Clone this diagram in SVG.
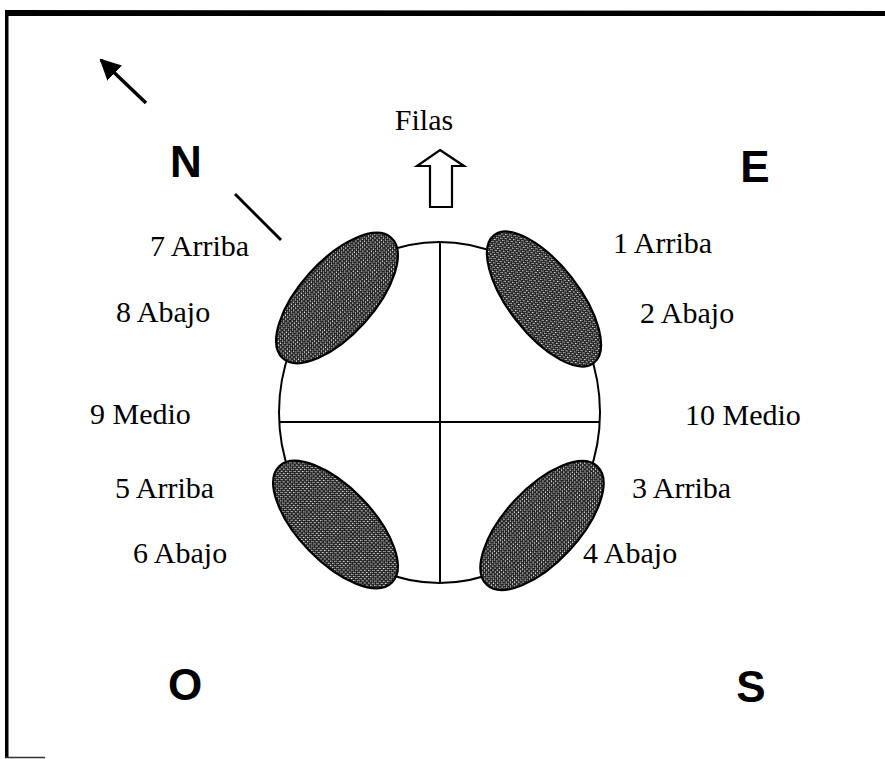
<svg xmlns="http://www.w3.org/2000/svg" width="885" height="759" viewBox="0 0 885 759">
<style>
.lbl{font-family:"Liberation Serif","Times New Roman",serif;font-size:30px;fill:#000}
.dir{font-family:"Liberation Sans",Arial,sans-serif;font-size:44px;font-weight:bold;fill:#000}
.ln{stroke:#000;stroke-width:2;fill:none}
.shade{fill:url(#dots);stroke:#000;stroke-width:2.2}
</style>
<defs>
<pattern id="dots" width="3" height="3" patternUnits="userSpaceOnUse">
<rect width="3" height="3" fill="#222"/>
<rect x="1" y="1" width="1" height="1" fill="#fff"/>
<rect x="2" y="0" width="1" height="1" fill="#bbb"/>
</pattern>
<marker id="ah" viewBox="0 0 10 10" refX="9" refY="5" markerWidth="6" markerHeight="6" orient="auto" markerUnits="strokeWidth">
<path d="M0,0 L10,5 L0,10 z" fill="#000"/>
</marker>
</defs>
<rect width="885" height="759" fill="#fff"/>
<g id="frame">
<polygon points="5,10 885,11 885,16 5,16" fill="#000"/>
<rect x="5" y="10" width="3.5" height="748" fill="#000"/>
<line x1="5" y1="757.5" x2="45" y2="757.5" stroke="#333" stroke-width="1.5"/>
</g>
<g id="connectors">
<line x1="146" y1="103" x2="101" y2="60" stroke="#000" stroke-width="3.5" marker-end="url(#ah)"/>
<line x1="235" y1="194" x2="281" y2="240" stroke="#000" stroke-width="3"/>
</g>
<g id="filas-arrow">
<polygon points="440,150 464,166 452,166 452,207 430,207 430,166 417,166" fill="#fff" stroke="#000" stroke-width="2.2"/>
</g>
<g id="body">
<ellipse cx="439.5" cy="412.5" rx="160.5" ry="170.5" class="ln"/>
<line x1="440" y1="242" x2="440" y2="583" class="ln"/>
<line x1="279" y1="422" x2="600" y2="422" class="ln"/>
</g>
<g id="zone-nw"><ellipse cx="337" cy="298" rx="81" ry="37" class="shade" transform="rotate(-48 337 298)"/></g>
<g id="zone-ne"><ellipse cx="544" cy="299" rx="81" ry="35" class="shade" transform="rotate(52 544 299)"/></g>
<g id="zone-sw"><ellipse cx="335.5" cy="524.5" rx="81" ry="37" class="shade" transform="rotate(46 335.5 524.5)"/></g>
<g id="zone-se"><ellipse cx="542" cy="525.5" rx="81" ry="37" class="shade" transform="rotate(-47 542 525.5)"/></g>
<g id="labels">
<text class="lbl" x="424" y="130" text-anchor="middle">Filas</text>
<text class="lbl" x="150" y="256">7 Arriba</text>
<text class="lbl" x="116" y="322">8 Abajo</text>
<text class="lbl" x="90" y="424">9 Medio</text>
<text class="lbl" x="115" y="498">5 Arriba</text>
<text class="lbl" x="133" y="563">6 Abajo</text>
<text class="lbl" x="613" y="253">1 Arriba</text>
<text class="lbl" x="640" y="323">2 Abajo</text>
<text class="lbl" x="685" y="425">10 Medio</text>
<text class="lbl" x="632" y="498">3 Arriba</text>
<text class="lbl" x="583" y="563">4 Abajo</text>
</g>
<g id="compass">
<text class="dir" x="186" y="177" text-anchor="middle">N</text>
<text class="dir" x="755" y="182" text-anchor="middle">E</text>
<text class="dir" x="185" y="700" text-anchor="middle">O</text>
<text class="dir" x="751" y="702" text-anchor="middle">S</text>
</g>
</svg>
